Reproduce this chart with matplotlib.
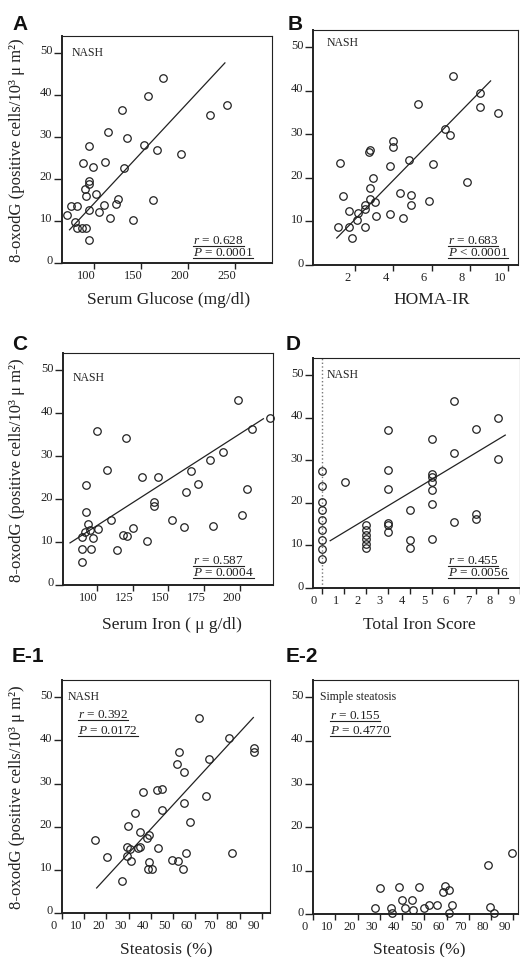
import matplotlib
matplotlib.use('Agg')
import matplotlib.pyplot as plt
from matplotlib.lines import Line2D
from matplotlib.transforms import ScaledTranslation

plt.rcParams['font.family'] = ['Liberation Serif', 'DejaVu Serif']
plt.rcParams['mathtext.fontset'] = 'custom'
plt.rcParams['mathtext.rm'] = 'Liberation Serif'
plt.rcParams['mathtext.it'] = 'Liberation Serif:italic'

# A: serum glucose vs 8-oxodG (NASH)
glucose = [173.5, 156.8, 241.4, 223, 130, 114.4, 135.2, 94.6, 153, 166.4, 191.9, 87.8,
           98.4, 111.9, 132.1, 95, 95, 90.3, 92, 102, 125.4, 122.9, 162.9, 110.8, 104.8,
           95, 116.9, 140.9, 75.1, 82.2, 70.8, 79.6, 82.2, 87.1, 91.4, 94.2]
oxo_a = [43.9, 39.7, 37.5, 35.2, 36.3, 31.1, 29.8, 27.9, 28.0, 26.8, 26.0, 23.8,
         22.8, 24.0, 22.6, 19.6, 18.8, 17.5, 15.9, 16.4, 15.3, 14.0, 14.9, 13.7, 12.1,
         12.5, 10.7, 10.3, 13.5, 13.5, 11.5, 9.7, 8.3, 8.3, 8.3, 5.4]
fit_a_x, fit_a_y = [74, 239], [7.9, 47.6]

# B: HOMA-IR
homa = [7.1, 8.54, 5.26, 8.51, 9.47, 6.68, 6.97, 4.0, 4.0, 2.79, 2.7, 1.23, 3.8, 4.83,
        6.05, 2.91, 7.85, 2.79, 1.39, 4.36, 4.91, 2.79, 3.05, 2.52, 5.84, 4.93, 1.7,
        2.17, 2.52, 3.08, 3.83, 4.5, 2.09, 1.08, 1.7, 2.49, 1.83]
oxo_b = [43.5, 39.6, 37.1, 36.2, 35.0, 31.2, 29.8, 28.5, 27.1, 26.5, 25.9, 23.5, 22.7, 24.2,
         23.1, 20.0, 19.0, 17.7, 15.8, 16.5, 16.2, 15.2, 14.5, 13.9, 14.6, 13.9, 12.3,
         11.9, 12.8, 11.2, 11.8, 10.9, 10.4, 8.7, 8.7, 8.7, 6.1]
fit_b_x, fit_b_y = [1.04, 9.07], [6.2, 42.3]

# C: serum iron
iron = [198.8, 100, 120.2, 208.1, 220.9, 187.9, 179.1, 165.8, 107.4, 131.4, 142.6, 170.5,
        162.3, 92.6, 204.7, 140, 140, 92.6, 110, 152.3, 161.2, 181, 201.6, 94, 100.7,
        95.3, 91.9, 89.5, 97.7, 89.5, 96, 90, 114, 118.6, 121, 125.6, 134.9]
oxo_c = [43.1, 35.8, 34.1, 36.3, 38.8, 30.9, 29.1, 26.6, 26.8, 25.2, 25.2, 23.4,
         21.6, 23.3, 22.4, 19.4, 18.4, 17.0, 15.2, 15.2, 13.4, 13.7, 16.2, 14.1, 13.1,
         12.7, 12.3, 11.2, 10.9, 8.4, 8.4, 5.3, 8.2, 11.7, 11.3, 13.3, 10.2]
fit_c_x, fit_c_y = [81.4, 216.3], [9.8, 38.7]

# D: total iron score
iron_score = [0, 0, 0, 0, 0, 0, 0, 0, 0, 1.05, 2, 2, 2, 2, 2, 2, 3, 3, 3, 3, 3, 3,
              4, 4, 4, 5, 5, 5, 5, 5, 5, 5, 6, 6, 6, 7, 7, 7, 8, 8]
oxo_d = [27.4, 23.9, 20.2, 18.4, 16.0, 13.6, 11.2, 9.2, 6.9, 24.8,
         14.8, 13.6, 12.5, 11.4, 10.3, 9.3, 37.0, 27.7, 23.3, 15.3, 14.7, 13.2,
         18.4, 11.2, 9.3, 35.1, 26.7, 26.0, 24.8, 22.9, 19.8, 11.6,
         44.0, 31.6, 15.4, 37.4, 17.4, 16.1, 39.9, 30.2]
fit_d_x, fit_d_y = [0.38, 8.33], [11.1, 35.9]

# E-1: steatosis, NASH
stea1 = [61.6, 75.1, 66.2, 52.7, 86.5, 86.5, 51.7, 55.1, 64.9, 55.1, 36.6, 42.6, 44.9,
         44.9, 32.9, 57.7, 29.9, 35.1, 38.1, 39.2, 14.9, 20.1, 29.1, 30.6, 34.1, 35.1,
         29.1, 31.0, 43.1, 39.3, 38.6, 40.7, 49.7, 52.1, 55.9, 54.7, 76.7, 26.9]
oxo_e1 = [45.1, 40.5, 35.7, 37.4, 38.3, 37.3, 34.5, 32.6, 27.1, 25.6, 28.1, 28.4, 28.7,
          23.9, 23.1, 21.1, 20.2, 18.8, 17.4, 18.0, 16.9, 13.0, 15.3, 14.9, 15.1, 15.3,
          13.2, 12.0, 15.0, 11.9, 10.2, 10.2, 12.2, 12.0, 14.0, 10.1, 13.8, 7.4]
fit_e1_x, fit_e1_y = [15.6, 86.2], [5.8, 45.3]

# E-2: steatosis, simple steatosis
stea2 = [27.7, 34.9, 35.4, 39.9, 41.2, 44.4, 44.8, 49.8, 52.0, 55.6, 62.4, 61.0, 79.5,
         81.3, 29.9, 38.7, 47.7, 59.5, 61.2, 58.2, 78.5, 89.6]
oxo_e2 = [1.4, 1.4, 0.2, 3.3, 1.4, 3.3, 0.9, 1.4, 2.1, 2.1, 2.1, 0.2, 1.6,
          0.2, 6.1, 6.2, 6.2, 6.5, 5.6, 5.0, 11.2, 14.1]

yticks = [0, 10, 20, 30, 40, 50]
ylabel = '8-oxodG (positive cells/10³ μ m²)'

W, H = 520, 957
fig = plt.figure(figsize=(W / 100, H / 100), dpi=100)
INK = '#222222'


def fx(px):
    return px / W


def fy(py):
    return 1 - py / H


def panel(box, xs, ys, xlim, xticks, fit_x=None, fit_y=None):
    l, t, r, b = box
    ax = fig.add_axes([l / W, 1 - b / H, (r - l) / W, (b - t) / H])
    ax.plot(xs, ys, 'o', ms=5.4, mfc='none', mec=INK, mew=0.9, clip_on=False, zorder=3)
    if fit_x is not None:
        ax.plot(fit_x, fit_y, color=INK, lw=0.9)
    ax.set_xlim(*xlim)
    ax.set_ylim(0, 54)
    ax.set_xticks(xticks)
    ax.set_yticks(yticks)
    ax.tick_params(axis='x', direction='out', length=4, width=1, labelsize=9, pad=1, colors=INK)
    ax.tick_params(axis='y', direction='out', length=6, width=1, labelsize=9, pad=1, colors=INK)
    for sp in ['left', 'bottom']:
        ax.spines[sp].set_linewidth(1.4)
        ax.spines[sp].set_color(INK)
    for sp in ['top', 'right']:
        ax.spines[sp].set_linewidth(0.8)
        ax.spines[sp].set_color(INK)
    sx = ScaledTranslation(-8 / 100, 0, fig.dpi_scale_trans)
    for lab in ax.get_xticklabels():
        lab.set_transform(lab.get_transform() + sx)
    sy = ScaledTranslation(0, 3 / 100, fig.dpi_scale_trans)
    for lab in ax.get_yticklabels():
        lab.set_transform(lab.get_transform() + sy)
    return ax


panel((62, 36, 272, 263), glucose, oxo_a, (66, 289), [100, 150, 200, 250], fit_a_x, fit_a_y)
panel((313, 30, 518, 265), homa, oxo_b, (-0.2, 10.5), [2, 4, 6, 8, 10], fit_b_x, fit_b_y)
panel((63, 353, 273, 585), iron, oxo_c, (76.5, 223), [100, 125, 150, 175, 200], fit_c_x, fit_c_y)
axd = panel((313, 358, 520, 588), iron_score, oxo_d, (-0.4, 9.0), list(range(10)), fit_d_x, fit_d_y)
axd.axvline(0, color='#777777', lw=1, ls=':', zorder=1)
panel((62, 680, 270, 913), stea1, oxo_e1, (0, 93.7), list(range(0, 100, 10)), fit_e1_x, fit_e1_y)
panel((313, 680, 518, 914), stea2, oxo_e2, (0, 92.1), list(range(0, 100, 10)))

# panel letters
for s, x, y in [('A', 12, 24), ('B', 288, 24), ('C', 12, 344), ('D', 286, 344),
                ('E-1', 12, 656), ('E-2', 286, 656)]:
    fig.text(fx(x), fy(y), s, family='Liberation Sans', weight='bold', fontsize=15,
             va='center', ha='left', color='#111111')

# y labels
for yc in [150, 470, 797]:
    fig.text(fx(17), fy(yc), ylabel, rotation=90, fontsize=12, ha='center', va='center', color=INK)

# x labels
for s, x, y in [('Serum Glucose (mg/dl)', 169, 300), ('HOMA-IR', 432, 300),
                ('Serum Iron ( μ g/dl)', 172, 625), ('Total Iron Score', 419, 625),
                ('Steatosis (%)', 166, 950), ('Steatosis (%)', 419, 950)]:
    fig.text(fx(x), fy(y), s, fontsize=12.5, ha='center', va='center', color=INK)

# group labels
for s, x, y in [('NASH', 72, 53), ('NASH', 327, 43), ('NASH', 73, 378), ('NASH', 327, 375),
                ('NASH', 68, 697), ('Simple steatosis', 320, 697)]:
    fig.text(fx(x), fy(y), s, fontsize=8.5, ha='left', va='center', color=INK)

# statistics (underlined)
stats = [('$r$ = 0.628', 193, 241), ('$P$ = 0.0001', 193, 253),
         ('$r$ = 0.683', 448, 241), ('$P$ < 0.0001', 448, 253),
         ('$r$ = 0.587', 193, 561), ('$P$ = 0.0004', 193, 573),
         ('$r$ = 0.455', 448, 561), ('$P$ = 0.0056', 448, 573),
         ('$r$ = 0.392', 78, 715), ('$P$ = 0.0172', 78, 731),
         ('$r$ = 0.155', 330, 716), ('$P$ = 0.4770', 330, 731)]
stat_texts = []
for s, x, y in stats:
    stat_texts.append(fig.text(fx(x), fy(y), s, fontsize=9.5, ha='left', va='center', color=INK))

fig.canvas.draw()
renderer = fig.canvas.get_renderer()
for t in stat_texts:
    bb = t.get_window_extent(renderer)
    fig.add_artist(Line2D([bb.x0 / W, bb.x1 / W], [(bb.y0 + 1) / H] * 2,
                          transform=fig.transFigure, lw=0.8, color=INK))

fig.savefig('out.png', dpi=100)
